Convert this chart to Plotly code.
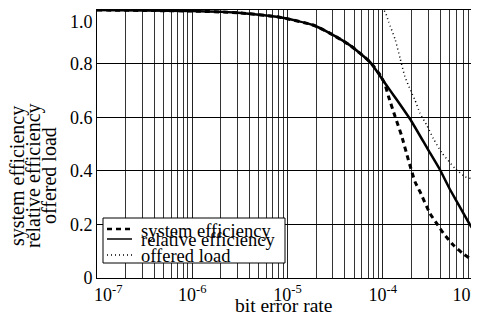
import plotly.graph_objects as go

# bit error rate values (x) and efficiency / load values (y)
rel_ber = [1e-7, 1e-6, 3e-6, 8.3e-6, 1.85e-5, 2.8e-5, 4.5e-5, 7.3e-5, 1.0e-4, 1.19e-4,
           1.41e-4, 2.0e-4, 3.0e-4, 4.0e-4, 5.0e-4, 6.0e-4, 8.2e-4, 1e-3]
rel_eff = [1.0, 0.996, 0.99, 0.973, 0.944, 0.913, 0.869, 0.807, 0.739, 0.701,
           0.664, 0.585, 0.478, 0.403, 0.335, 0.285, 0.20, 0.155]

sys_ber = [1e-7, 1e-6, 3e-6, 8.3e-6, 1.85e-5, 2.8e-5, 4.5e-5, 7.3e-5, 9.5e-5, 1.06e-4,
           1.15e-4, 1.35e-4, 1.58e-4, 1.86e-4, 2.18e-4, 2.46e-4, 3.13e-4, 3.68e-4,
           4.33e-4, 5.5e-4, 7.0e-4, 9.3e-4, 1e-3]
sys_eff = [1.0, 0.996, 0.99, 0.973, 0.944, 0.913, 0.869, 0.807, 0.755, 0.72,
           0.677, 0.602, 0.53, 0.44, 0.359, 0.322, 0.241, 0.204,
           0.167, 0.123, 0.090, 0.061, 0.055]

load_ber = [1e-7, 1.02e-4, 1.15e-4, 1.35e-4, 1.52e-4, 1.71e-4, 1.96e-4, 2.18e-4,
            2.46e-4, 2.89e-4, 3.40e-4, 4.16e-4, 5.74e-4, 7.31e-4, 9.3e-4, 1e-3]
load_val = [1.0, 1.0, 0.956, 0.89, 0.82, 0.751, 0.70, 0.664,
            0.615, 0.571, 0.52, 0.468, 0.409, 0.378, 0.366, 0.355]

series_names = ["system efficiency", "relative efficiency", "offered load"]
y_title_lines = ["system efficiency", "relative efficiency", "offered load"]
x_title = "bit error rate"

NB = "\u00a0"
x_tickvals = [1e-7, 1e-6, 1e-5, 1e-4, 1e-3]
x_ticktext = [NB * 5 + "10<sup>-7</sup>", "10<sup>-6</sup>", "10<sup>-5</sup>",
              "10<sup>-4</sup>", "10<sup>-3</sup>" + NB * 5]
y_tickvals = [0, 0.2, 0.4, 0.6, 0.8, 1.0]
y_ticktext = ["0", "0.2", "0.4", "0.6", "0.8", NB + "<br>1.0"]

FONT = "Liberation Serif, Times New Roman, serif"
styles = [dict(color="black", width=3, dash="5px,4px"),
          dict(color="black", width=2.5),
          dict(color="black", width=1.5, dash="1px,3px")]

fig = go.Figure()
for xs, ys, name, st in zip([sys_ber, rel_ber, load_ber], [sys_eff, rel_eff, load_val],
                            series_names, styles):
    fig.add_trace(go.Scatter(x=xs, y=ys, mode="lines", name=name, showlegend=False,
                             line=dict(shape="spline", smoothing=0.5, **st)))

# plot area: 10^-7 .. 10^-3 spans window x 97..478, y 0..1 spans window 278..10
PX0, PX1, PY0, PY1 = 97.0, 478.0, 278.0, 10.0


def px(xw):
    return (xw - PX0) / (PX1 - PX0)


def py(yw):
    return (PY0 - yw) / (PY0 - PY1)


# hand-built compact legend (paper coordinates)
shapes = [dict(type="rect", xref="paper", yref="paper", x0=px(103), x1=px(285),
               y0=py(263), y1=py(218), fillcolor="white",
               line=dict(color="black", width=1), layer="above")]
legend_line_y = [229, 239, 255]
legend_text_y = [231, 240, 256]
legend_line_styles = [dict(color="black", width=2.5, dash="5px,4px"),
                      dict(color="black", width=1.5),
                      dict(color="black", width=1.5, dash="1px,3px")]
annotations = []
for name, ly, ty, st in zip(series_names, legend_line_y, legend_text_y, legend_line_styles):
    shapes.append(dict(type="line", xref="paper", yref="paper", x0=px(107), x1=px(132),
                       y0=py(ly), y1=py(ly), line=st, layer="above"))
    annotations.append(dict(text=name, xref="paper", yref="paper", x=px(139), y=py(ty),
                            xanchor="left", yanchor="middle", showarrow=False,
                            font=dict(family=FONT, size=18.5, color="black")))

# stacked y-axis title lines
for line_text, xw in zip(y_title_lines, [17, 33, 49]):
    annotations.append(dict(text=line_text, xref="paper", yref="paper", x=px(xw), y=py(176),
                            xanchor="center", yanchor="middle", textangle=-90,
                            showarrow=False, font=dict(family=FONT, size=20, color="black")))
annotations.append(dict(text=x_title, xref="paper", yref="paper", x=px(283), y=py(305),
                        xanchor="center", yanchor="middle", showarrow=False,
                        font=dict(family=FONT, size=19.5, color="black")))

fig.update_layout(
    autosize=False, width=471, height=306,
    margin=dict(l=89, r=1, t=2, b=36, autoexpand=False),
    paper_bgcolor="white", plot_bgcolor="white",
    font=dict(family=FONT, size=18, color="black"),
    showlegend=False,
    shapes=shapes, annotations=annotations,
)
fig.update_xaxes(
    type="log", range=[-7, -3], tickvals=x_tickvals, ticktext=x_ticktext,
    showgrid=True, gridcolor="#222", gridwidth=1,
    minor=dict(dtick="D1", showgrid=True, gridcolor="#333", gridwidth=1, ticks=""),
    showline=True, linecolor="black", linewidth=1, mirror=True, ticks="",
    zeroline=False, automargin=False, ticklabelstandoff=0, ticklabeloverflow="allow",
    tickfont=dict(family=FONT, size=18),
)
fig.update_yaxes(
    range=[0, 1.0], tickvals=y_tickvals, ticktext=y_ticktext,
    showgrid=True, gridcolor="black", gridwidth=1,
    showline=True, linecolor="black", linewidth=1, mirror=True, ticks="",
    zeroline=False, automargin=False, ticklabelstandoff=0, ticklabeloverflow="allow",
    tickfont=dict(family=FONT, size=18),
)
fig.write_html("out.html")
